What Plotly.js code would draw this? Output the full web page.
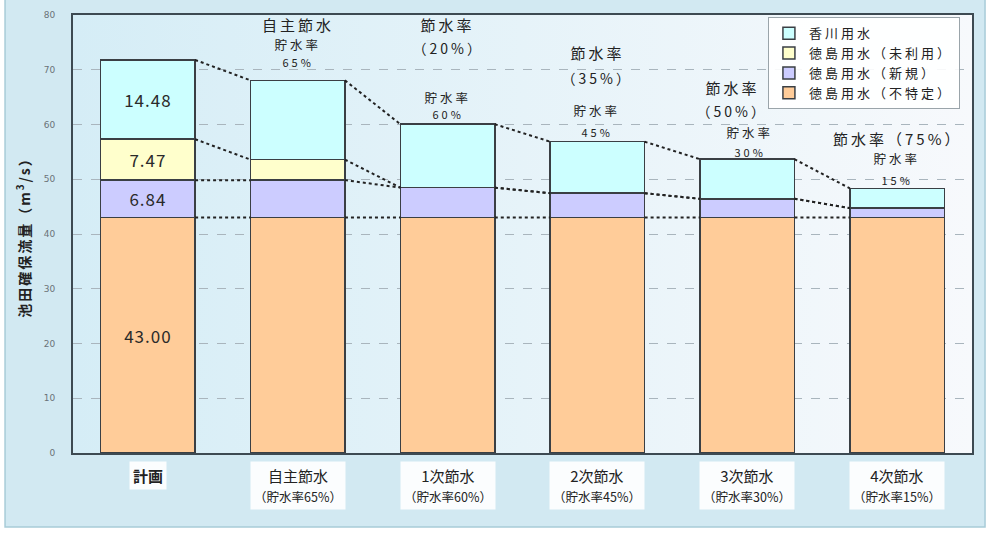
<!DOCTYPE html>
<html>
<head>
<meta charset="utf-8">
<script src="https://cdn.plot.ly/plotly-3.0.1.min.js"></script>
<style>
html,body{margin:0;padding:0;background:#fff;}
#chart{width:990px;height:541px;}
.annotation .annotation-text{letter-spacing:3px;}
.annotation[data-index="0"] .annotation-text,
.annotation[data-index="1"] .annotation-text,
.annotation[data-index="2"] .annotation-text,
.annotation[data-index="3"] .annotation-text,
.annotation[data-index="4"] .annotation-text,
.annotation[data-index="5"] .annotation-text{letter-spacing:0px;}
.legendtext{letter-spacing:3px;}
.bartext{letter-spacing:1px;}
.ytitle{letter-spacing:2px;}
</style>
</head>
<body>
<div id="chart"></div>
<script>
// ---- data ----
const categories = ["計画", "自主節水", "1次節水", "2次節水", "3次節水", "4次節水"];
const subLabels = ["", "（貯水率65%）", "（貯水率60%）", "（貯水率45%）", "（貯水率30%）", "（貯水率15%）"];
const seriesNames = ["徳島用水（不特定）", "徳島用水（新規）", "徳島用水（未利用）", "香川用水"];
const tokushimaFutokutei = [43.00, 43.00, 43.00, 43.00, 43.00, 43.00];
const tokushimaShinki = [6.84, 6.84, 5.47, 4.45, 3.42, 1.71];
const tokushimaMiriyo = [7.47, 3.74, 0, 0, 0, 0];
const kagawa = [14.48, 14.48, 11.58, 9.41, 7.24, 3.62];
const planLabels = ["43.00", "6.84", "7.47", "14.48"];
const yTickVals = [0, 10, 20, 30, 40, 50, 60, 70, 80];

// ---- styles ----
const colors = ["#FFCC99", "#CCCCFF", "#FFFFCC", "#CCFFFF"];
const barWidth = 0.63;
const jp = '"Noto Sans CJK JP", "Noto Sans", sans-serif';
const xIdx = categories.map((c, i) => i);
const series = [tokushimaFutokutei, tokushimaShinki, tokushimaMiriyo, kagawa];

const traces = series.map((vals, k) => ({
  type: "bar",
  name: seriesNames[k],
  x: xIdx,
  y: vals,
  width: barWidth,
  marker: {color: colors[k], line: {color: "#3a3f44", width: 1.5}},
  text: vals.map((v, i) => i === 0 ? planLabels[k] : ""),
  textposition: "inside",
  insidetextanchor: "middle",
  textfont: {family: jp, size: 17, color: "#2a2a2a"},
  constraintext: "none",
  hoverinfo: "skip"
}));

// connector dotted lines between stacked levels
let cum = xIdx.map(() => 0);
series.forEach((vals, k) => {
  cum = cum.map((c, i) => c + vals[i]);
  const lx = [], ly = [];
  for (let i = 0; i < xIdx.length - 1; i++) {
    lx.push(xIdx[i] + barWidth / 2, xIdx[i + 1] - barWidth / 2, null);
    ly.push(cum[i], cum[i + 1], null);
  }
  traces.push({
    type: "scatter", mode: "lines", x: lx, y: ly, showlegend: false, hoverinfo: "skip",
    line: {color: "#222", width: 2, dash: "dot"}
  });
});

const annotations = [];
categories.forEach((c, i) => {
  const txt = subLabels[i]
    ? c + "<br><span style='font-size:12.5px'>" + subLabels[i] + "</span>"
    : "<b>" + c + "</b>";
  annotations.push({
    x: xIdx[i], y: -0.018, xref: "x", yref: "paper", yanchor: "top", xanchor: "center",
    text: txt, showarrow: false, bgcolor: "rgba(255,255,255,0.9)", borderpad: 3,
    font: {family: jp, size: 15, color: "#222"}
  });
});
function addTop(x, y, text, size) {
  annotations.push({x: x, y: y, xref: "x", yref: "y", text: text, showarrow: false,
    font: {family: jp, size: size, color: "#222"}});
}
addTop(1, 78.2, "自主節水", 15);
addTop(1, 74.6, "貯水率", 12.5);
addTop(1, 71.4, "65%", 11);
addTop(2, 78.2, "節水率", 15);
addTop(2, 74.0, "（20%）", 14);
addTop(2, 65.0, "貯水率", 12.5);
addTop(2, 61.9, "60%", 11);
addTop(3, 73.1, "節水率", 15);
addTop(3, 68.5, "（35%）", 14);
addTop(3, 62.5, "貯水率", 12.5);
addTop(3, 58.6, "45%", 11);
addTop(3.9, 66.7, "節水率", 15);
addTop(3.9, 62.5, "（50%）", 14);
addTop(4.02, 58.6, "貯水率", 12.5);
addTop(4.02, 55.0, "30%", 11);
addTop(5, 57.5, "節水率（75%）", 15);
addTop(5, 53.7, "貯水率", 12.5);
addTop(5, 49.9, "15%", 11);

const gradSvg = '<svg xmlns="http://www.w3.org/2000/svg" width="100" height="100" viewBox="0 0 100 100" preserveAspectRatio="none"><defs><linearGradient id="g" x1="0" y1="0" x2="1" y2="0"><stop offset="0" stop-color="#d5edf6"/><stop offset="1" stop-color="#f7f9fc"/></linearGradient></defs><rect width="100" height="100" fill="url(#g)"/></svg>';
const gradUri = "data:image/svg+xml;charset=utf-8," + encodeURIComponent(gradSvg);

const layout = {
  width: 990, height: 541,
  margin: {l: 73, r: 18, t: 15, b: 88},
  paper_bgcolor: "#d2e9f2",
  plot_bgcolor: "rgba(0,0,0,0)",
  barmode: "stack",
  bargap: 0,
  showlegend: true,
  legend: {
    x: 0.773, y: 0.995, xanchor: "left", yanchor: "top",
    bgcolor: "rgba(255,255,255,0.9)", bordercolor: "#9aa4aa", borderwidth: 1,
    font: {family: jp, size: 13, color: "#222"}, traceorder: "reversed",
    itemwidth: 30, tracegroupgap: 0
  },
  xaxis: {
    range: [-0.5, 5.5], tickvals: xIdx, showticklabels: false,
    showgrid: false, zeroline: false, showline: true, mirror: true,
    linecolor: "#3d4a52", linewidth: 2, fixedrange: true
  },
  yaxis: {
    range: [0, 80], tickvals: yTickVals, showgrid: true, gridcolor: "#a9b5bd", griddash: "dash",
    gridwidth: 1, zeroline: false, showline: true, mirror: true, linecolor: "#3d4a52", linewidth: 2,
    ticks: "", ticklabelstandoff: 14, tickfont: {family: "DejaVu Sans", size: 9, color: "#6a7278"},
    title: {text: "<b>池田確保流量（m<sup>3</sup>/s）</b>", font: {family: jp, size: 14, color: "#222"}, standoff: 10},
    fixedrange: true
  },
  images: [{source: gradUri, xref: "paper", yref: "paper", x: 0, y: 1, sizex: 1, sizey: 1,
    sizing: "stretch", layer: "below", xanchor: "left", yanchor: "top"}],
  shapes: [
    {type: "rect", xref: "paper", yref: "paper", x0: -0.09, x1: 1.03, y0: -0.169, y1: -0.21, fillcolor: "#ffffff", line: {width: 0}, layer: "above"},
    {type: "rect", xref: "paper", yref: "paper", x0: 1.0145, x1: 1.03, y0: -0.21, y1: 1.05, fillcolor: "#ffffff", line: {width: 0}, layer: "above"},
    {type: "rect", xref: "paper", yref: "paper", x0: -0.09, x1: -0.0756, y0: -0.21, y1: 1.05, fillcolor: "#ffffff", line: {width: 0}, layer: "above"},
    {type: "rect", xref: "paper", yref: "paper", x0: -0.0756, x1: 1.0145, y0: -0.169, y1: 1.05, fillcolor: "rgba(0,0,0,0)", line: {width: 1.5, color: "#a8ccd8"}, layer: "above"}
  ],
  annotations: annotations
};

Plotly.newPlot("chart", traces, layout, {displayModeBar: false, staticPlot: true});
</script>
</body>
</html>
